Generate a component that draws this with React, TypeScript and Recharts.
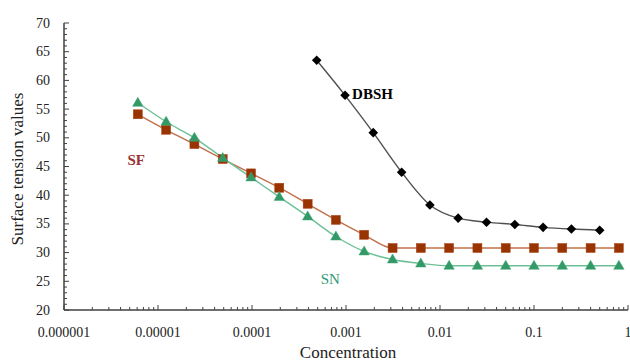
import React from 'react';
import { LineChart, Line, XAxis, YAxis, ReferenceDot } from 'recharts';

// concentrations (log axis)
const sfConc = [6.1e-6, 1.22e-5, 2.44e-5, 4.88e-5, 9.77e-5, 1.95e-4, 3.91e-4, 7.81e-4, 1.56e-3, 3.13e-3, 6.25e-3, 0.0125, 0.025, 0.05, 0.1, 0.2, 0.4, 0.8];
const sfValues = [54.1, 51.4, 48.9, 46.3, 43.8, 41.3, 38.5, 35.7, 33.1, 30.8, 30.8, 30.8, 30.8, 30.8, 30.8, 30.8, 30.8, 30.8];
const snValues = [56.1, 52.8, 50.0, 46.5, 43.1, 39.7, 36.3, 32.8, 30.2, 28.8, 28.1, 27.7, 27.7, 27.7, 27.7, 27.7, 27.7, 27.7];
const dbshConc = [4.88e-4, 9.77e-4, 1.95e-3, 3.91e-3, 7.81e-3, 0.0156, 0.03125, 0.0625, 0.125, 0.25, 0.5];
const dbshValues = [63.5, 57.4, 50.9, 44.0, 38.3, 36.0, 35.3, 34.9, 34.4, 34.1, 33.9];

const decadeTicks = [1e-6, 1e-5, 1e-4, 1e-3, 1e-2, 1e-1, 1];
const decadeLabels = ['0.000001', '0.00001', '0.0001', '0.001', '0.01', '0.1', '1'];
const minorSteps = [2, 3, 4, 5, 6, 7, 8, 9];
const yTicks = [20, 25, 30, 35, 40, 45, 50, 55, 60, 65, 70];

// series annotations: [text, x, y, colour, weight]
const annotations: [string, number, number, string, string][] = [
  ['DBSH', 1.16e-3, 56.7, '#000000', 'bold'],
  ['SF', 4.74e-6, 45.2, '#993333', 'bold'],
  ['SN', 5.38e-4, 24.5, '#339977', 'normal'],
];

const sfData = sfConc.map((c, i) => ({ c, v: sfValues[i] }));
const snData = sfConc.map((c, i) => ({ c, v: snValues[i] }));
const dbshData = dbshConc.map((c, i) => ({ c, v: dbshValues[i] }));

const xTicks: number[] = [];
decadeTicks.forEach((d, i) => {
  xTicks.push(d);
  if (i < decadeTicks.length - 1) minorSteps.forEach(m => xTicks.push(d * m));
});
const yAllTicks: number[] = [];
for (let v = 20; v <= 70; v++) yAllTicks.push(v);

const FONT = '"Liberation Serif", "Times New Roman", serif';
const AXIS = '#404040';

const XTick = ({ x, y, payload }: any) => {
  const idx = decadeTicks.findIndex(d => Math.abs(d - payload.value) / d < 1e-6);
  const major = idx >= 0;
  return <g>
      <line x1={x} x2={x} y1={y} y2={y - (major ? 5 : 3)} stroke={AXIS} strokeWidth={1} />
      {major && <text x={x} y={y + 27} textAnchor="middle" fontSize={14} fontFamily={FONT} fill="#222">
          {decadeLabels[idx]}
        </text>}
    </g>;
};

const YTick = ({ x, y, payload }: any) => {
  const major = yTicks.includes(payload.value);
  return <g>
      <line x1={x} x2={x + (major ? 5 : 3)} y1={y} y2={y} stroke={AXIS} strokeWidth={1} />
      {major && <text x={x - 14} y={y} textAnchor="end" dominantBaseline="central" fontSize={14} fontFamily={FONT} fill="#222">
          {payload.value}
        </text>}
    </g>;
};

const Square = ({ cx, cy }: any) => <rect x={cx - 4.5} y={cy - 4.5} width={9} height={9} fill="#993300" stroke="#a8421a" strokeWidth={0.5} />;
const Triangle = ({ cx, cy }: any) => <polygon points={`${cx},${cy - 5.5} ${cx - 5.2},${cy + 3.5} ${cx + 5.2},${cy + 3.5}`} fill="#339966" stroke="#3fa574" strokeWidth={0.5} />;
const Diamond = ({ cx, cy }: any) => <polygon points={`${cx},${cy - 4.8} ${cx + 4.8},${cy} ${cx},${cy + 4.8} ${cx - 4.8},${cy}`} fill="#000" />;

export default function App() {
  return <div style={{ position: 'absolute', left: 0, top: 0, background: '#fff' }}>
      <LineChart width={630} height={363} margin={{ top: 23, right: 2, bottom: 23, left: 0 }}>
        <XAxis type="number" dataKey="c" scale="log" domain={[1e-6, 1]} ticks={xTicks} interval={0} allowDataOverflow
          tickSize={0} tickMargin={0} tickLine={false} tick={<XTick />} height={30}
          axisLine={{ stroke: AXIS, strokeWidth: 1.5 }} />
        <YAxis type="number" domain={[20, 70]} ticks={yAllTicks} interval={0} width={64}
          tickSize={0} tickMargin={0} tickLine={false} tick={<YTick />}
          axisLine={{ stroke: AXIS, strokeWidth: 1.5 }} />
        <Line data={dbshData} dataKey="v" type="monotone" stroke="#505050" strokeWidth={1.4}
          dot={(p: any) => <Diamond key={p.index} {...p} />} isAnimationActive={false} />
        <Line data={sfData} dataKey="v" type="monotone" stroke="#c0704a" strokeWidth={1.4}
          dot={(p: any) => <Square key={p.index} {...p} />} isAnimationActive={false} />
        <Line data={snData} dataKey="v" type="monotone" stroke="#6cc095" strokeWidth={1.4}
          dot={(p: any) => <Triangle key={p.index} {...p} />} isAnimationActive={false} />
        {annotations.map(([t, x, y, color, weight]) => <ReferenceDot key={t} x={x} y={y} r={0}
            shape={(p: any) => <text x={p.cx} y={p.cy} fontSize={15} fontWeight={weight} fontFamily={FONT} fill={color}>{t}</text>} />)}
      </LineChart>
      <svg width={630} height={363} style={{ position: 'absolute', left: 0, top: 0, pointerEvents: 'none' }}>
        <text x={17} y={169} transform="rotate(-90 17 169)" textAnchor="middle" dominantBaseline="central" fontSize={17} fontFamily={FONT} fill="#222">
          Surface tension values
        </text>
        <text x={348} y={358} textAnchor="middle" fontSize={17} fontFamily={FONT} fill="#222">
          Concentration
        </text>
      </svg>
    </div>;
}
